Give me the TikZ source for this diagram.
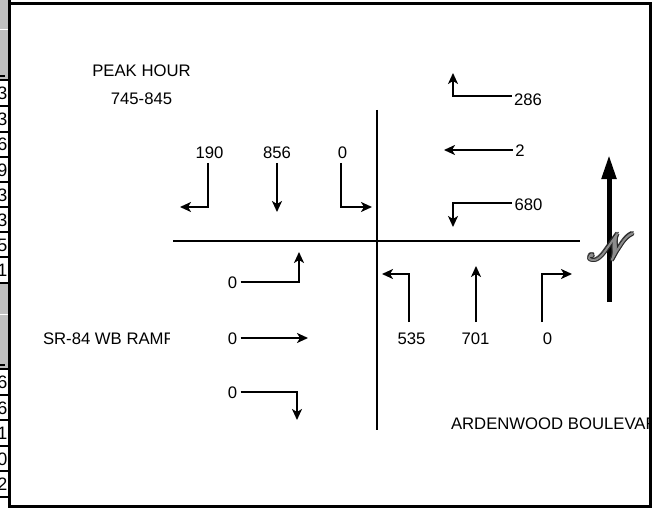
\documentclass[tikz,border=0pt]{standalone}
\usepackage{fontspec}
\setmainfont{Liberation Sans}
\usepackage{mathrsfs}
\usetikzlibrary{arrows.meta}
\begin{document}
\begin{tikzpicture}[x=1pt,y=-1pt,
  lbl/.style={font=\fontsize{16.7}{19}\selectfont, inner sep=0pt, outer sep=0pt, text height=12pt, text depth=0pt},
  celldigit/.style={font=\fontsize{18}{20}\selectfont, inner sep=0pt, anchor=east, text height=13pt, text depth=0pt},
  road/.style={line width=2pt},
  flow/.style={line width=1.8pt, line join=miter, -{Stealth[length=11pt,width=10pt,inset=3pt]}},
  frameline/.style={line width=3pt},
  cellrule/.style={line width=1.2pt},
  northarrow/.style={line width=5pt, -{Triangle[length=24pt,width=14pt]}},
  nglyph/.style={inner sep=0pt, scale=1.5, font=\fontsize{24.88}{26}\selectfont}
]
\useasboundingbox (0,0) rectangle (656,508);
% left strip (cut table)
\fill[gray!50] (0,0) rectangle (8,80);
\fill[gray!50] (0,283) rectangle (8,369);
\draw[white, line width=1pt] (0,29.5) -- (8,29.5);
\draw[white, line width=1pt] (0,314.5) -- (8,314.5);
\draw[line width=1.5pt] (0,76) -- (5,76);
\draw[line width=1.5pt] (0,365) -- (5,365);
\draw[line width=2pt] (0,80) -- (8,80);
\draw[line width=2pt] (0,369) -- (8,369);
\foreach \yy in {106,132,157,182,207,232,257,283,395,420,446,471,497}
  \draw[cellrule] (0,\yy) -- (8,\yy);
\foreach \yy/\d [count=\i] in {93/3,119/3,144.5/6,169.5/9,194.5/3,219.5/3,244.5/5,270/1,382/6,407.5/6,433/1,458.5/0,484/2}
  \node[celldigit] (cd\i) at (7.5,\yy) {\d};
% frame
\draw[frameline] (9,0) -- (9,508);
\draw[frameline] (9,3.5) -- (650,3.5) -- (650,506.5) -- (9,506.5);
% titles
\node[lbl] (peak) at (141.5,71) {PEAK HOUR};
\node[lbl] (time) at (141.5,99) {745-845};
\begin{scope}
  \clip (0,0) rectangle (169.5,508);
  \node[lbl, anchor=west] (sr) at (43,338) {SR-84 WB RAMP};
\end{scope}
\begin{scope}
  \clip (0,0) rectangle (648,508);
  \node[lbl, anchor=west] (ard) at (451,423) {ARDENWOOD BOULEVARD};
\end{scope}
% roads
\coordinate (rW) at (173,241);
\coordinate (rE) at (580,241);
\coordinate (rN) at (377,110);
\coordinate (rS) at (377,430);
\draw[road] (rW) -- (rE);
\draw[road] (rN) -- (rS);
% southbound
\node[lbl] (s190) at (209.5,152) {190};
\node[lbl] (s856) at (277,152) {856};
\node[lbl] (s0) at (342.5,152) {0};
\coordinate (s190c) at (208,207); \coordinate (s190t) at (180,207);
\draw[flow] ([yshift=-5pt]s190.south -| s190c) -- (s190c) -- (s190t);
\coordinate (s856t) at (277,212);
\draw[flow] ([yshift=-5pt]s856.south) -- (s856t);
\coordinate (s0c) at (341,207); \coordinate (s0t) at (372,207);
\draw[flow] ([yshift=-5pt]s0.south -| s0c) -- (s0c) -- (s0t);
% westbound
\node[lbl] (w286) at (528,100) {286};
\coordinate (w286c) at (453,96); \coordinate (w286t) at (453,73);
\draw[flow] ([xshift=-2.5pt]w286.west |- w286c) -- (w286c) -- (w286t);
\node[lbl] (w2) at (520,151) {2};
\coordinate (w2t) at (444,150);
\draw[flow] ([xshift=-2.5pt]w2.west |- w2t) -- (w2t);
\node[lbl] (w680) at (528.5,204) {680};
\coordinate (w680c) at (453,203); \coordinate (w680t) at (453,227);
\draw[flow] ([xshift=-2.5pt]w680.west |- w680c) -- (w680c) -- (w680t);
% northbound
\node[lbl] (n535) at (411.5,338) {535};
\node[lbl] (n701) at (475.5,338) {701};
\node[lbl] (n0) at (547.5,338) {0};
\coordinate (n535c) at (409,274); \coordinate (n535t) at (382,274);
\draw[flow] ([yshift=10pt]n535.north -| n535c) -- (n535c) -- (n535t);
\coordinate (n701t) at (476,266);
\draw[flow] ([yshift=10pt]n701.north -| n701t) -- (n701t);
\coordinate (n0c) at (542,274); \coordinate (n0t) at (572,274);
\draw[flow] ([yshift=10pt]n0.north -| n0c) -- (n0c) -- (n0t);
% eastbound
\node[lbl] (e0a) at (232.5,282) {0};
\node[lbl] (e0b) at (232.5,338) {0};
\node[lbl] (e0c) at (232.5,392) {0};
\coordinate (e0ac) at (299,282); \coordinate (e0at) at (299,252);
\draw[flow] ([xshift=3.5pt]e0a.east |- e0ac) -- (e0ac) -- (e0at);
\coordinate (e0bt) at (308,338);
\draw[flow] ([xshift=3.5pt]e0b.east |- e0bt) -- (e0bt);
\coordinate (e0cc) at (297,392); \coordinate (e0ct) at (297,420);
\draw[flow] ([xshift=3.5pt]e0c.east |- e0cc) -- (e0cc) -- (e0ct);
% north arrow
\coordinate (nab) at (609,302); \coordinate (nat) at (609,155);
\draw[northarrow] (nab) -- (nat);
\foreach \dx/\dy [count=\k] in {1.7/0,-1.7/0,0/1.7,0/-1.7,1.2/1.2,-1.2/1.2,1.2/-1.2,-1.2/-1.2}
  \node[nglyph, text=black!85] (nshadow\k) at (611+\dx,247+\dy) {$\mathscr{N}$};
\foreach \dx/\dy [count=\k] in {0.6/0,-0.6/0,0/0.6,0/-0.6}
  \node[nglyph, text=black!45] (nfill\k) at (611+\dx,247+\dy) {$\mathscr{N}$};
\node[nglyph, text=black!45] (nletter) at (611,247) {$\mathscr{N}$};
\end{tikzpicture}
\end{document}
